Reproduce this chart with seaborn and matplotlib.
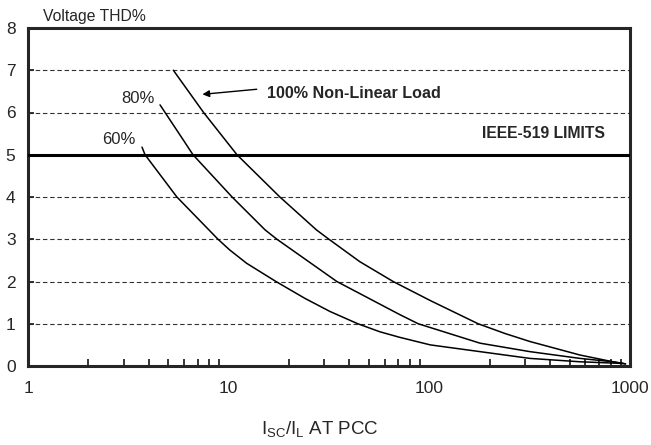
import numpy as np
import pandas as pd
import matplotlib
matplotlib.use("Agg")
import matplotlib.pyplot as plt
import matplotlib.ticker as mticker
import seaborn as sns

# ---- data ----
load_100_x = [5.3, 7.5, 11.0, 18.0, 27.4, 31.6, 45, 66, 101, 175, 238, 317, 563, 822, 950]
load_100_y = [7.0, 6.0, 5.0, 4.0, 3.22, 3.0, 2.47, 2.0, 1.55, 1.0, 0.77, 0.58, 0.26, 0.10, 0.05]

load_80_x = [4.55, 5.94, 6.64, 10.4, 15.2, 17.4, 34.6, 71, 88, 179, 317, 563, 822, 950]
load_80_y = [6.18, 5.35, 5.0, 4.0, 3.22, 3.0, 2.0, 1.22, 1.0, 0.54, 0.34, 0.18, 0.10, 0.05]

load_60_x = [3.7, 3.83, 5.52, 8.85, 10.1, 12.3, 17.2, 24, 32, 44, 56.7, 71, 101, 238, 317, 563, 922]
load_60_y = [5.18, 5.0, 4.0, 3.0, 2.75, 2.43, 2.0, 1.6, 1.29, 1.0, 0.81, 0.68, 0.50, 0.26, 0.18, 0.10, 0.06]

ieee_limit = 5.0
x_ticks = [1, 10, 100, 1000]
x_tick_labels = ["1", "10", "100", "1000"]
y_ticks = [0, 1, 2, 3, 4, 5, 6, 7, 8]

frames = []
for name, xs, ys in [("100%", load_100_x, load_100_y),
                     ("80%", load_80_x, load_80_y),
                     ("60%", load_60_x, load_60_y)]:
    frames.append(pd.DataFrame({"ratio": xs, "thd": ys, "load": name}))
df = pd.concat(frames, ignore_index=True)

sns.set_style("ticks")
FAM = ["Liberation Sans", "DejaVu Sans"]
plt.rcParams["font.family"] = FAM
plt.rcParams["mathtext.fontset"] = "custom"
plt.rcParams["mathtext.rm"] = "Liberation Sans"
plt.rcParams["mathtext.it"] = "Liberation Sans"

fig = plt.figure(figsize=(6.51, 4.45), dpi=100)
ax = fig.add_axes([28 / 651, 1 - 366 / 445, (630 - 28) / 651, (366 - 28) / 445])

ax.set_xscale("log")
ax.set_xlim(1, 1000)
ax.set_ylim(0, 8)

# grid
ax.yaxis.grid(True, which="major", color="#333333", lw=0.8, ls=(0, (4, 2.5)), zorder=1)
ax.set_axisbelow(True)

sns.lineplot(data=df, x="ratio", y="thd", hue="load", units="load", estimator=None,
             palette={"100%": "black", "80%": "black", "60%": "black"},
             lw=1.1, legend=False, sort=False, ax=ax, zorder=3)

ax.axhline(ieee_limit, color="black", lw=2.2, zorder=4)

for s in ax.spines.values():
    s.set_linewidth(2.2)
    s.set_visible(True)

ax.set_xticks(x_ticks)
ax.set_xticklabels(x_tick_labels)
ax.xaxis.set_minor_locator(mticker.LogLocator(base=10, subs=np.arange(2, 10)))
ax.xaxis.set_minor_formatter(mticker.NullFormatter())
ax.tick_params(axis="x", which="major", length=0, pad=11, labelsize=12.5)
ax.tick_params(axis="x", which="minor", direction="in", length=5, width=1.3)
ax.set_yticks(y_ticks)
ax.tick_params(axis="y", which="major", direction="in", length=4, width=1.3, pad=9, labelsize=12.5)
ax.set_xlabel("")
ax.set_ylabel("")

# labels
fig.text(43 / 651, 1 - 17 / 445, "Voltage THD%", fontsize=11.3, va="center", ha="left")
fig.text(320 / 651, 1 - 429 / 445, r"$\mathrm{I_{SC}/I_{L}}$ AT PCC", fontsize=13.5,
         va="center", ha="center")

ax.text(4.3, 6.32, "80%", fontsize=12, ha="right", va="center")
ax.text(3.45, 5.37, "60%", fontsize=12, ha="right", va="center")
ax.text(750, 5.51, "IEEE-519 LIMITS", fontsize=11.3, fontweight="bold", ha="right", va="center")
ax.text(15.5, 6.46, "100% Non-Linear Load", fontsize=11.6, fontweight="bold", ha="left", va="center")
ax.annotate("", xy=(7.4, 6.43), xytext=(13.8, 6.55),
            arrowprops=dict(arrowstyle="-|>", color="black", lw=1.0,
                            mutation_scale=10, shrinkA=0, shrinkB=0))

fig.savefig("out.png", dpi=100)
